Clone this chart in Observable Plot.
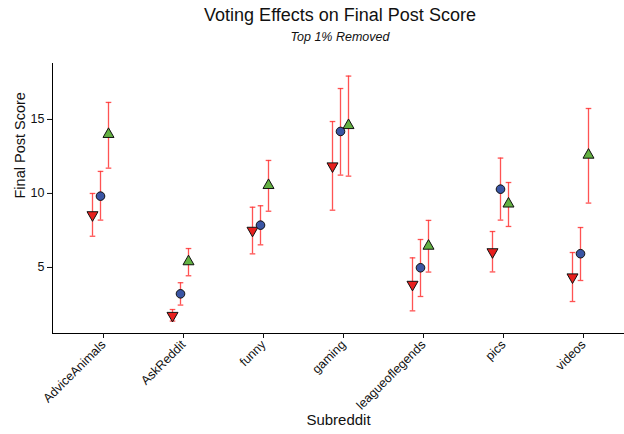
<!DOCTYPE html>
<html>
<head>
<meta charset="utf-8">
<script src="https://cdn.jsdelivr.net/npm/d3@7"></script>
<script src="https://cdn.jsdelivr.net/npm/@observablehq/plot@0.6"></script>
<style>
  body { margin: 0; background: #fff; font-family: "Liberation Sans", Arial, Helvetica, sans-serif; }
  #wrap { position: relative; width: 624px; height: 434px; overflow: hidden; }
  #title { position: absolute; left: 52px; width: 576px; top: 5px; text-align: center; font-size: 18px; color: #111; }
  #subtitle { position: absolute; left: 52px; width: 576px; top: 30px; text-align: center; font-size: 12.5px; font-style: italic; color: #111; }
  #chart { position: absolute; left: 0; top: 0; }
</style>
</head>
<body>
<div id="wrap">
  <div id="chart"></div>
  <div id="title">Voting Effects on Final Post Score</div>
  <div id="subtitle">Top 1% Removed</div>
</div>
<script>
const subreddits = ["AdviceAnimals", "AskReddit", "funny", "gaming", "leagueoflegends", "pics", "videos"];
const conditions = ["Downvoted", "Control", "Upvoted"];

const downMean = [8.55, 1.75, 7.50, 11.85, 3.85, 6.05, 4.35];
const downLo   = [7.11, 1.38, 5.92, 8.87, 2.07, 4.70, 2.70];
const downHi   = [10.00, 2.16, 9.07, 14.86, 5.65, 7.43, 6.01];

const controlMean = [9.82, 3.22, 7.86, 14.19, 4.98, 10.29, 5.93];
const controlLo   = [8.20, 2.46, 6.53, 11.24, 3.04, 8.20, 4.12];
const controlHi   = [11.49, 3.97, 9.17, 17.09, 6.89, 12.39, 7.70];

const upMean = [14.00, 5.40, 10.55, 14.60, 6.45, 9.30, 12.60];
const upLo   = [11.71, 4.44, 8.80, 11.17, 4.69, 7.77, 9.35];
const upHi   = [16.15, 6.28, 12.23, 17.93, 8.18, 10.74, 15.74];

const yTicks = [5, 10, 15];

const source = {
  Downvoted: [downMean, downLo, downHi],
  Control: [controlMean, controlLo, controlHi],
  Upvoted: [upMean, upLo, upHi]
};
const rows = conditions.flatMap(c => subreddits.map((s, i) => ({
  subreddit: s, condition: c,
  mean: source[c][0][i], lo: source[c][1][i], hi: source[c][2][i]
})));

// custom marker shapes
const upTri = { draw(ctx) { const w = 5.5, h = 9.6; ctx.moveTo(0, -2*h/3); ctx.lineTo(w, h/3); ctx.lineTo(-w, h/3); ctx.closePath(); } };
const downTri = { draw(ctx) { const w = 5.5, h = 9.6; ctx.moveTo(0, 2*h/3); ctx.lineTo(w, -h/3); ctx.lineTo(-w, -h/3); ctx.closePath(); } };
const cap = { draw(ctx) { ctx.moveTo(-2.8, 0); ctx.lineTo(2.8, 0); } };

const style = {
  Downvoted: { dx: -8, symbol: downTri, fill: "#e8201e" },
  Control:   { dx: 0,  symbol: "circle", fill: "#3a55a4" },
  Upvoted:   { dx: 8,  symbol: upTri,   fill: "#63b142" }
};
const errColor = "#ff3535";

const marks = [
  Plot.frame({ anchor: "left", stroke: "#000" }),
  Plot.frame({ anchor: "bottom", stroke: "#000" }),
  Plot.axisY(yTicks, { tickSize: 5, tickPadding: 3, fontSize: 12.5, label: null }),
  Plot.axisX({ tickSize: 5, tickPadding: 4, tickRotate: -45, fontSize: 12.5, dx: 3, label: null }),
  Plot.text(["Final Post Score"], { frameAnchor: "left", dx: -32, rotate: -90, fontSize: 14.5, fill: "#111" }),
  Plot.text(["Subreddit"], { frameAnchor: "bottom", dy: 91, fontSize: 15, fill: "#111" })
];
for (const c of conditions) {
  const d = rows.filter(r => r.condition === c);
  const s = style[c];
  marks.push(Plot.ruleX(d, { x: "subreddit", y1: "lo", y2: "hi", dx: s.dx, stroke: errColor, strokeOpacity: 0.85, strokeWidth: 1.3 }));
  marks.push(Plot.dot(d, { x: "subreddit", y: "lo", dx: s.dx, symbol: cap, stroke: errColor, strokeOpacity: 0.85, strokeWidth: 1.3, fill: "none" }));
  marks.push(Plot.dot(d, { x: "subreddit", y: "hi", dx: s.dx, symbol: cap, stroke: errColor, strokeOpacity: 0.85, strokeWidth: 1.3, fill: "none" }));
}
for (const c of conditions) {
  const d = rows.filter(r => r.condition === c);
  const s = style[c];
  marks.push(Plot.dot(d, { x: "subreddit", y: "mean", dx: s.dx, symbol: s.symbol, r: 4.3, fill: s.fill, stroke: "#111", strokeWidth: 1 }));
}

const chart = Plot.plot({
  width: 624,
  height: 434,
  marginTop: 63,
  marginBottom: 101,
  marginLeft: 52,
  marginRight: 0,
  style: { fontFamily: "'Liberation Sans', Arial, Helvetica, sans-serif", color: "#111", background: "#fff" },
  x: { type: "point", domain: subreddits, range: [100, 580], padding: 0 },
  y: { domain: [0.54, 18.78] },
  marks
});
document.getElementById("chart").appendChild(chart);
</script>
</body>
</html>
